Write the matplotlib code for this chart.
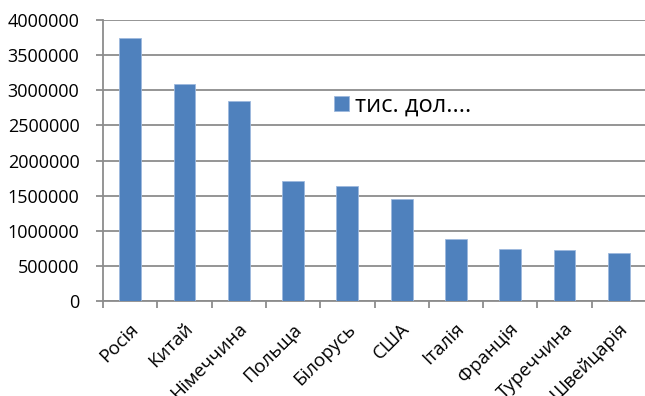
import matplotlib
matplotlib.use("Agg")
import matplotlib.pyplot as plt
import matplotlib.transforms as mtransforms

countries = ["Росія", "Китай", "Німеччина", "Польща", "Білорусь",
             "США", "Італія", "Франція", "Туреччина", "Швейцарія"]
values = [3750000, 3090000, 2840000, 1710000, 1630000,
          1450000, 880000, 735000, 720000, 690000]
series_name = "тис. дол...."
y_ticks = [0, 500000, 1000000, 1500000, 2000000, 2500000, 3000000, 3500000, 4000000]

plt.rcParams['font.family'] = ['Open Sans', 'DejaVu Sans']

fig = plt.figure(figsize=(6.45, 3.96), dpi=100)
ax = fig.add_axes([103 / 645, 1 - 301 / 396, 543 / 645, 281 / 396])

x = list(range(len(countries)))
bars = ax.bar(x, values, width=0.4, color="#4F81BD", edgecolor="#9DB9DE",
              linewidth=0.6, label=series_name, zorder=3)

ax.set_xlim(-0.5, len(countries) - 0.5)
ax.set_ylim(0, 4000000)
ax.set_yticks(y_ticks)
ax.set_yticklabels([str(v) for v in y_ticks], fontsize=13)
ax.yaxis.grid(True, color="#8C8C8C", linewidth=1.3, zorder=0)
ax.set_axisbelow(True)

for s in ["top", "right"]:
    ax.spines[s].set_visible(False)
for s in ["left", "bottom"]:
    ax.spines[s].set_color("#8C8C8C")
    ax.spines[s].set_linewidth(1.3)

ax.tick_params(axis="y", length=5, width=1.3, color="#8C8C8C", pad=12)
# category boundary ticks on x axis
ax.set_xticks([i - 0.5 for i in x], minor=True)
ax.tick_params(axis="x", which="minor", length=5, width=1.3, color="#8C8C8C")
ax.set_xticks(x)
ax.tick_params(axis="x", which="major", length=0, pad=2)
ax.set_xticklabels(countries, fontsize=13.5, rotation=45, ha="right",
                   rotation_mode="anchor")
offset = mtransforms.ScaledTranslation(-1 / 100, -16 / 100, fig.dpi_scale_trans)
for lbl in ax.get_xticklabels():
    lbl.set_transform(lbl.get_transform() + offset)

leg = ax.legend(loc="center left", bbox_to_anchor=(334 / 645, 1 - 106 / 396),
                bbox_transform=fig.transFigure, frameon=False, fontsize=17,
                handlelength=0.63, handleheight=0.63, handletextpad=0.25,
                borderpad=0, borderaxespad=0)

fig.savefig("out.png", dpi=100)
